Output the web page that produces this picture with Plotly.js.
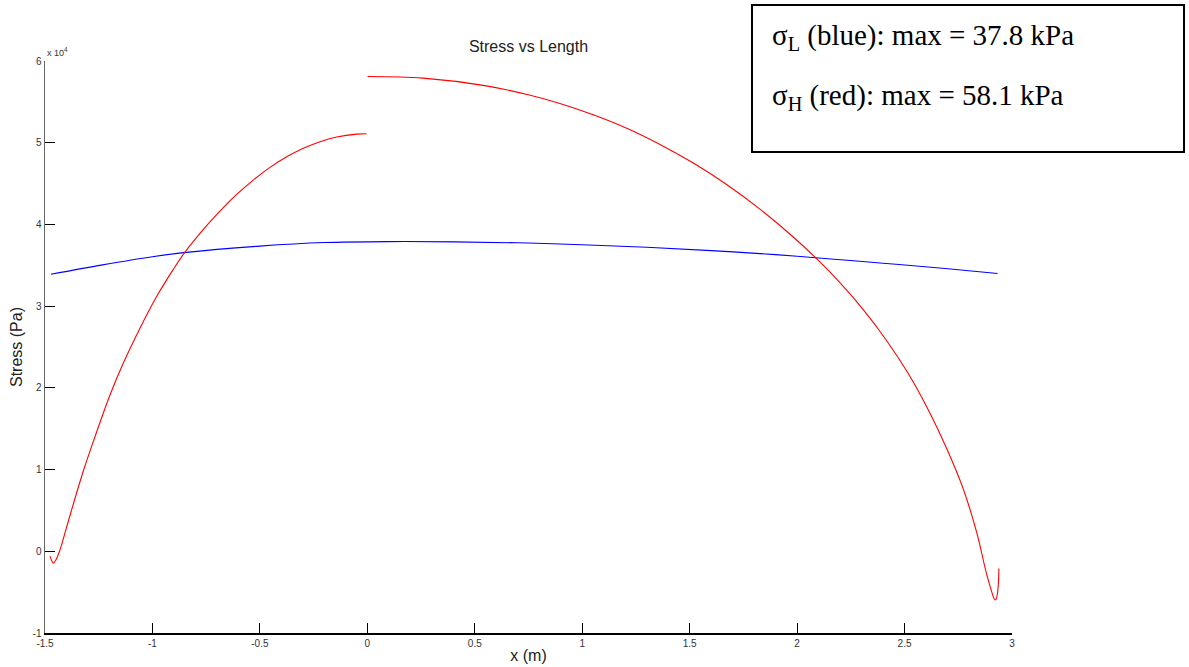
<!DOCTYPE html>
<html>
<head>
<meta charset="utf-8">
<script src="https://cdn.plot.ly/plotly-3.0.1.min.js"></script>
<style>html,body{margin:0;padding:0;background:#fff;}#chart{width:1189px;height:667px;}</style>
</head>
<body>
<div id="chart"></div>
<script>
// sigma_L (blue)
const blueX = [-1.472, -1.232, -1.0, -0.854, -0.5, -0.2, 0.1, 0.4, 0.7, 1.0, 1.3, 1.6, 1.9, 2.1, 2.4, 2.69, 2.933];
const blueY = [33900, 35050, 36050, 36550, 37350, 37780, 37900, 37870, 37750, 37520, 37200, 36800, 36300, 35900, 35250, 34600, 34000];
// sigma_H (red), left branch
const redLeftX = [-1.477, -1.468, -1.461, -1.448, -1.430, -1.400, -1.368, -1.322, -1.275, -1.198, -1.136, -1.058, -0.980, -0.903, -0.849, -0.763, -0.686, -0.608, -0.531, -0.453, -0.375, -0.298, -0.220, -0.143, -0.050, -0.003];
const redLeftY = [-600, -1200, -1450, -1000, 200, 2900, 5800, 9800, 13450, 19100, 23000, 27300, 31200, 34500, 36600, 39400, 41640, 43670, 45430, 46980, 48270, 49320, 50130, 50690, 51050, 51100];
// sigma_H (red), right branch
const redRightX = [0.001, 0.259, 0.553, 0.749, 0.896, 1.051, 1.207, 1.362, 1.517, 1.672, 1.827, 1.982, 2.098, 2.199, 2.277, 2.386, 2.510, 2.603, 2.696, 2.773, 2.835, 2.882, 2.905, 2.915, 2.921, 2.927, 2.933, 2.937, 2.939];
const redRightY = [58100, 57900, 56960, 55860, 54790, 53410, 51770, 49790, 47510, 44890, 41870, 38460, 35620, 32890, 30550, 26900, 22060, 17690, 12570, 7640, 2370, -2800, -4900, -5700, -5950, -5800, -5000, -3800, -2100];
const yTickVals = [-10000, 0, 10000, 20000, 30000, 40000, 50000, 60000];
const yTickText = ['-1', '0', '1', '2', '3', '4', '5', '6'];
const xTickVals = [-1.5, -1, -0.5, 0, 0.5, 1, 1.5, 2, 2.5, 3];
const xTickText = ['-1.5', '-1', '-0.5', '0', '0.5', '1', '1.5', '2', '2.5', '3'];
const infoLines = ['σ<sub>L</sub> (blue): max = 37.8 kPa', 'σ<sub>H</sub> (red): max = 58.1 kPa'];

const lineShape = {shape: 'spline', smoothing: 1, width: 1.1};
const traces = [
  {x: blueX, y: blueY, mode: 'lines', line: Object.assign({color: '#0000ff'}, lineShape), hoverinfo: 'skip'},
  {x: redLeftX, y: redLeftY, mode: 'lines', line: Object.assign({color: '#ff0000'}, lineShape), hoverinfo: 'skip'},
  {x: redRightX, y: redRightY, mode: 'lines', line: Object.assign({color: '#ff0000'}, lineShape), hoverinfo: 'skip'}
];

const axisFont = {family: 'Liberation Sans, Arial, sans-serif', size: 10, color: '#333'};
const layout = {
  width: 1189, height: 667,
  margin: {l: 45, r: 177, t: 61, b: 34, pad: 0},
  paper_bgcolor: '#fff', plot_bgcolor: '#fff',
  showlegend: false,
  font: {family: 'Liberation Sans, Arial, sans-serif', color: '#222'},
  title: {text: 'Stress vs Length', font: {size: 16, color: '#222'}, xref: 'paper', x: 0.5, xanchor: 'center', yref: 'container', y: 1 - 46/667, yanchor: 'middle'},
  xaxis: {
    range: [-1.5, 3], tickvals: xTickVals, ticktext: xTickText,
    ticks: 'inside', ticklen: 10, tickcolor: '#000', tickwidth: 1,
    showline: true, linecolor: '#000', linewidth: 1.5, mirror: false,
    showgrid: false, zeroline: false, tickfont: axisFont,
    title: {text: 'x (m)', font: {size: 16, color: '#222'}, standoff: 2}
  },
  yaxis: {
    range: [-10000, 60000], tickvals: yTickVals, ticktext: yTickText,
    ticks: 'inside', ticklen: 10, tickcolor: '#000', tickwidth: 1,
    showline: true, linecolor: '#666', linewidth: 1.5, mirror: false,
    showgrid: false, zeroline: false, tickfont: axisFont,
    title: {text: 'Stress (Pa)', font: {size: 16, color: '#222'}, standoff: 6}
  },
  shapes: [
    {type: 'rect', xref: 'paper', yref: 'paper', x0: (752-45)/967, x1: (1184-45)/967, y0: (633-152)/572, y1: (633-5)/572, line: {color: '#000', width: 2}, fillcolor: '#fff', layer: 'above'}
  ],
  annotations: [
    {xref: 'paper', yref: 'paper', x: 0, y: (633-52)/572, xanchor: 'left', yanchor: 'middle', text: 'x 10<sup>4</sup>', showarrow: false, font: {size: 9, color: '#333'}},
    {xref: 'paper', yref: 'paper', x: (770-45)/967, y: (633-37)/572, xanchor: 'left', yanchor: 'middle', text: infoLines[0], showarrow: false, font: {family: 'Liberation Serif, Times New Roman, serif', size: 29, color: '#000'}},
    {xref: 'paper', yref: 'paper', x: (770-45)/967, y: (633-97)/572, xanchor: 'left', yanchor: 'middle', text: infoLines[1], showarrow: false, font: {family: 'Liberation Serif, Times New Roman, serif', size: 29, color: '#000'}}
  ]
};
Plotly.newPlot('chart', traces, layout, {staticPlot: true, displayModeBar: false});
</script>
</body>
</html>
